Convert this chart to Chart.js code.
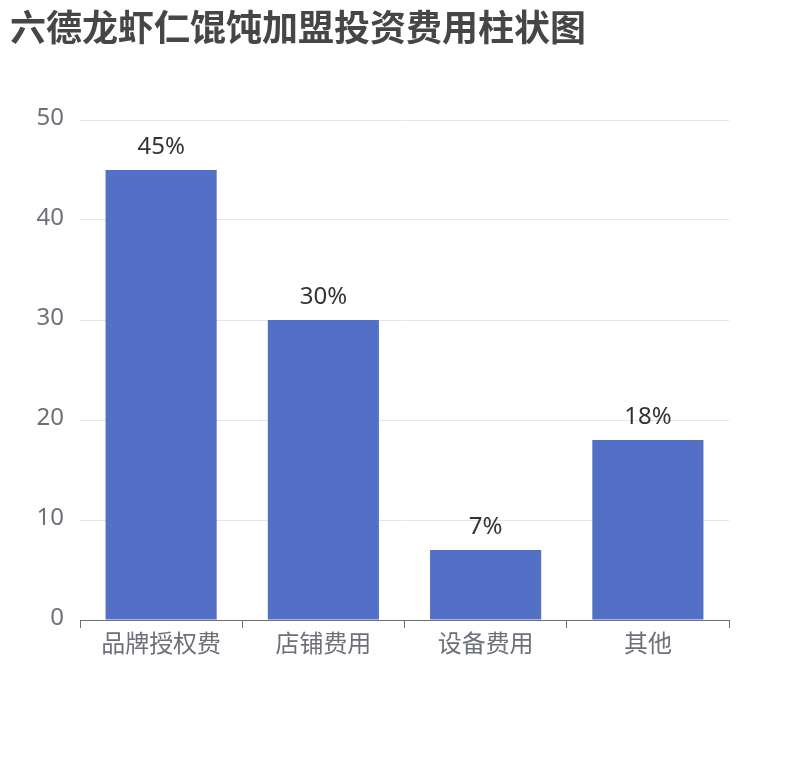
<!DOCTYPE html>
<html>
<head>
<meta charset="utf-8">
<script src="https://cdn.jsdelivr.net/npm/chart.js@4.4.1/dist/chart.umd.min.js"></script>
<style>
    html, body { margin: 0; padding: 0; background: #fff; }
    #wrap { position: relative; width: 810px; height: 760px; }
    #title {
        position: absolute; left: 10px; top: 7px; margin: 0;
        font: bold 36px/36px "Noto Sans CJK SC", sans-serif; color: #464646;
        white-space: nowrap;
    }
</style>
</head>
<body>
<div id="wrap">
    <h1 id="title">六德龙虾仁馄饨加盟投资费用柱状图</h1>
    <canvas id="chart" width="810" height="760"></canvas>
</div>
<script>
const categories = ['品牌授权费', '店铺费用', '设备费用', '其他'];
const shares = [45, 30, 7, 18];
const labels = ['45%', '30%', '7%', '18%'];

const FONT = '"Noto Sans", "Noto Sans CJK SC", sans-serif';

// draw the percentage text above each bar
const barLabels = {
    id: 'barLabels',
    afterDatasetsDraw(chart) {
        const ctx = chart.ctx;
        const meta = chart.getDatasetMeta(0);
        ctx.save();
        ctx.font = '24px ' + FONT;
        ctx.fillStyle = '#333';
        ctx.textAlign = 'center';
        ctx.textBaseline = 'alphabetic';
        meta.data.forEach((bar, i) => {
            ctx.fillText(labels[i], bar.x, bar.y - 16);
        });
        ctx.restore();
    }
};

new Chart(document.getElementById('chart').getContext('2d'), {
    type: 'bar',
    data: {
        labels: categories,
        datasets: [{
            data: shares,
            backgroundColor: '#5470c6',
            categoryPercentage: 1,
            barPercentage: 0.685
        }]
    },
    options: {
        responsive: false,
        animation: false,
        layout: { padding: { left: 0, right: 81, top: 120, bottom: 80 } },
        plugins: { legend: { display: false }, tooltip: { enabled: false } },
        scales: {
            x: {
                afterFit(scale) { scale.height = 60; },
                border: { display: true, color: '#6e7079', width: 1 },
                grid: { offset: true, drawOnChartArea: false, drawTicks: true, tickLength: 8, color: '#6e7079' },
                ticks: { color: '#6e7079', font: { family: FONT, size: 24 }, padding: 3 }
            },
            y: {
                min: 0, max: 50,
                afterFit(scale) { scale.width = 80; },
                border: { display: false },
                grid: { color: '#e0e6f1', drawTicks: false },
                ticks: { stepSize: 10, color: '#6e7079', font: { family: FONT, size: 24 }, padding: 16, labelOffset: -2 }
            }
        }
    },
    plugins: [barLabels]
});
</script>
</body>
</html>
